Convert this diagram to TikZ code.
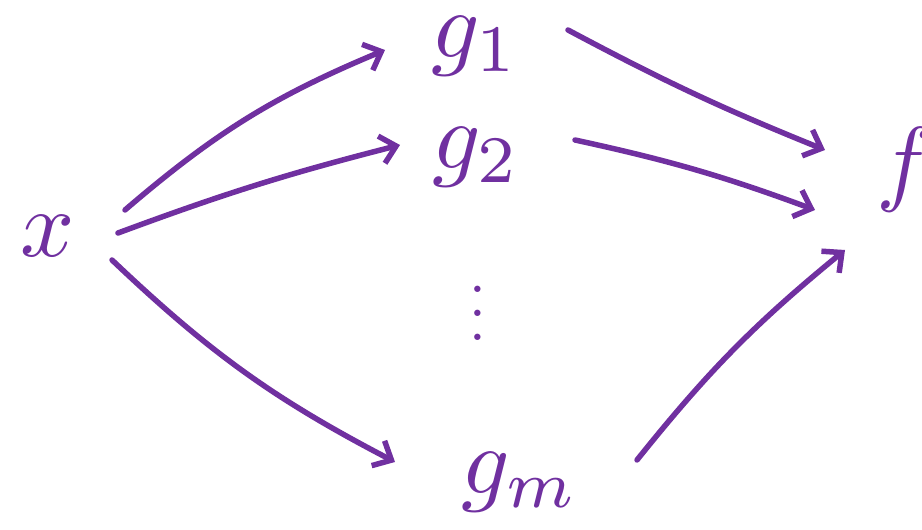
\documentclass[tikz,border=0pt]{standalone}
\usetikzlibrary{arrows.meta}
\definecolor{hpurple}{RGB}{112,48,160}
\newcommand{\hw}[1]{\scalebox{9.5}{$#1$}}
\tikzset{
  lbl/.style={text=hpurple, inner sep=0pt},
  arr/.style={hpurple, line width=5.5pt, line cap=round, -{Straight Barb[length=15pt,width=28pt,line width=5.5pt]}}
}
\begin{document}
\begin{tikzpicture}[x=1pt,y=1pt]
\useasboundingbox (0,0) rectangle (922,530);
\node[lbl] (x) at (48,294) {\hw{x}};
\node[lbl] (g1) at (475,484) {\hw{g_1}};
\node[lbl] (g2) at (476,373) {\hw{g_2}};
\node[lbl] (dots) at (478,235) {\scalebox{6}[6]{$\vdots$}};
\node[lbl] (gm) at (520,48) {\hw{g_m}};
\node[lbl] (f) at (905,360) {\hw{f}};
% arrows out of x
\draw[arr] ([xshift=77pt,yshift=26pt]x.center) to[bend left=9] ([xshift=-90pt,yshift=-4pt]g1.center);
\draw[arr] ([xshift=70pt,yshift=3pt]x.center) to[bend left=3] ([xshift=-76pt,yshift=12pt]g2.center);
\draw[arr] ([xshift=64pt,yshift=-24pt]x.center) to[bend right=8] ([xshift=-125pt,yshift=20pt]gm.center);
% arrows into f
\draw[arr] ([xshift=93pt,yshift=16pt]g1.center) to[bend right=3] ([xshift=-80pt,yshift=20pt]f.center);
\draw[arr] ([xshift=99pt,yshift=17pt]g2.center) to[bend left=4] ([xshift=-90pt,yshift=-40pt]f.center);
\draw[arr] ([xshift=117pt,yshift=22pt]gm.center) to[bend left=6] ([xshift=-60pt,yshift=-80pt]f.center);
\end{tikzpicture}
\end{document}
